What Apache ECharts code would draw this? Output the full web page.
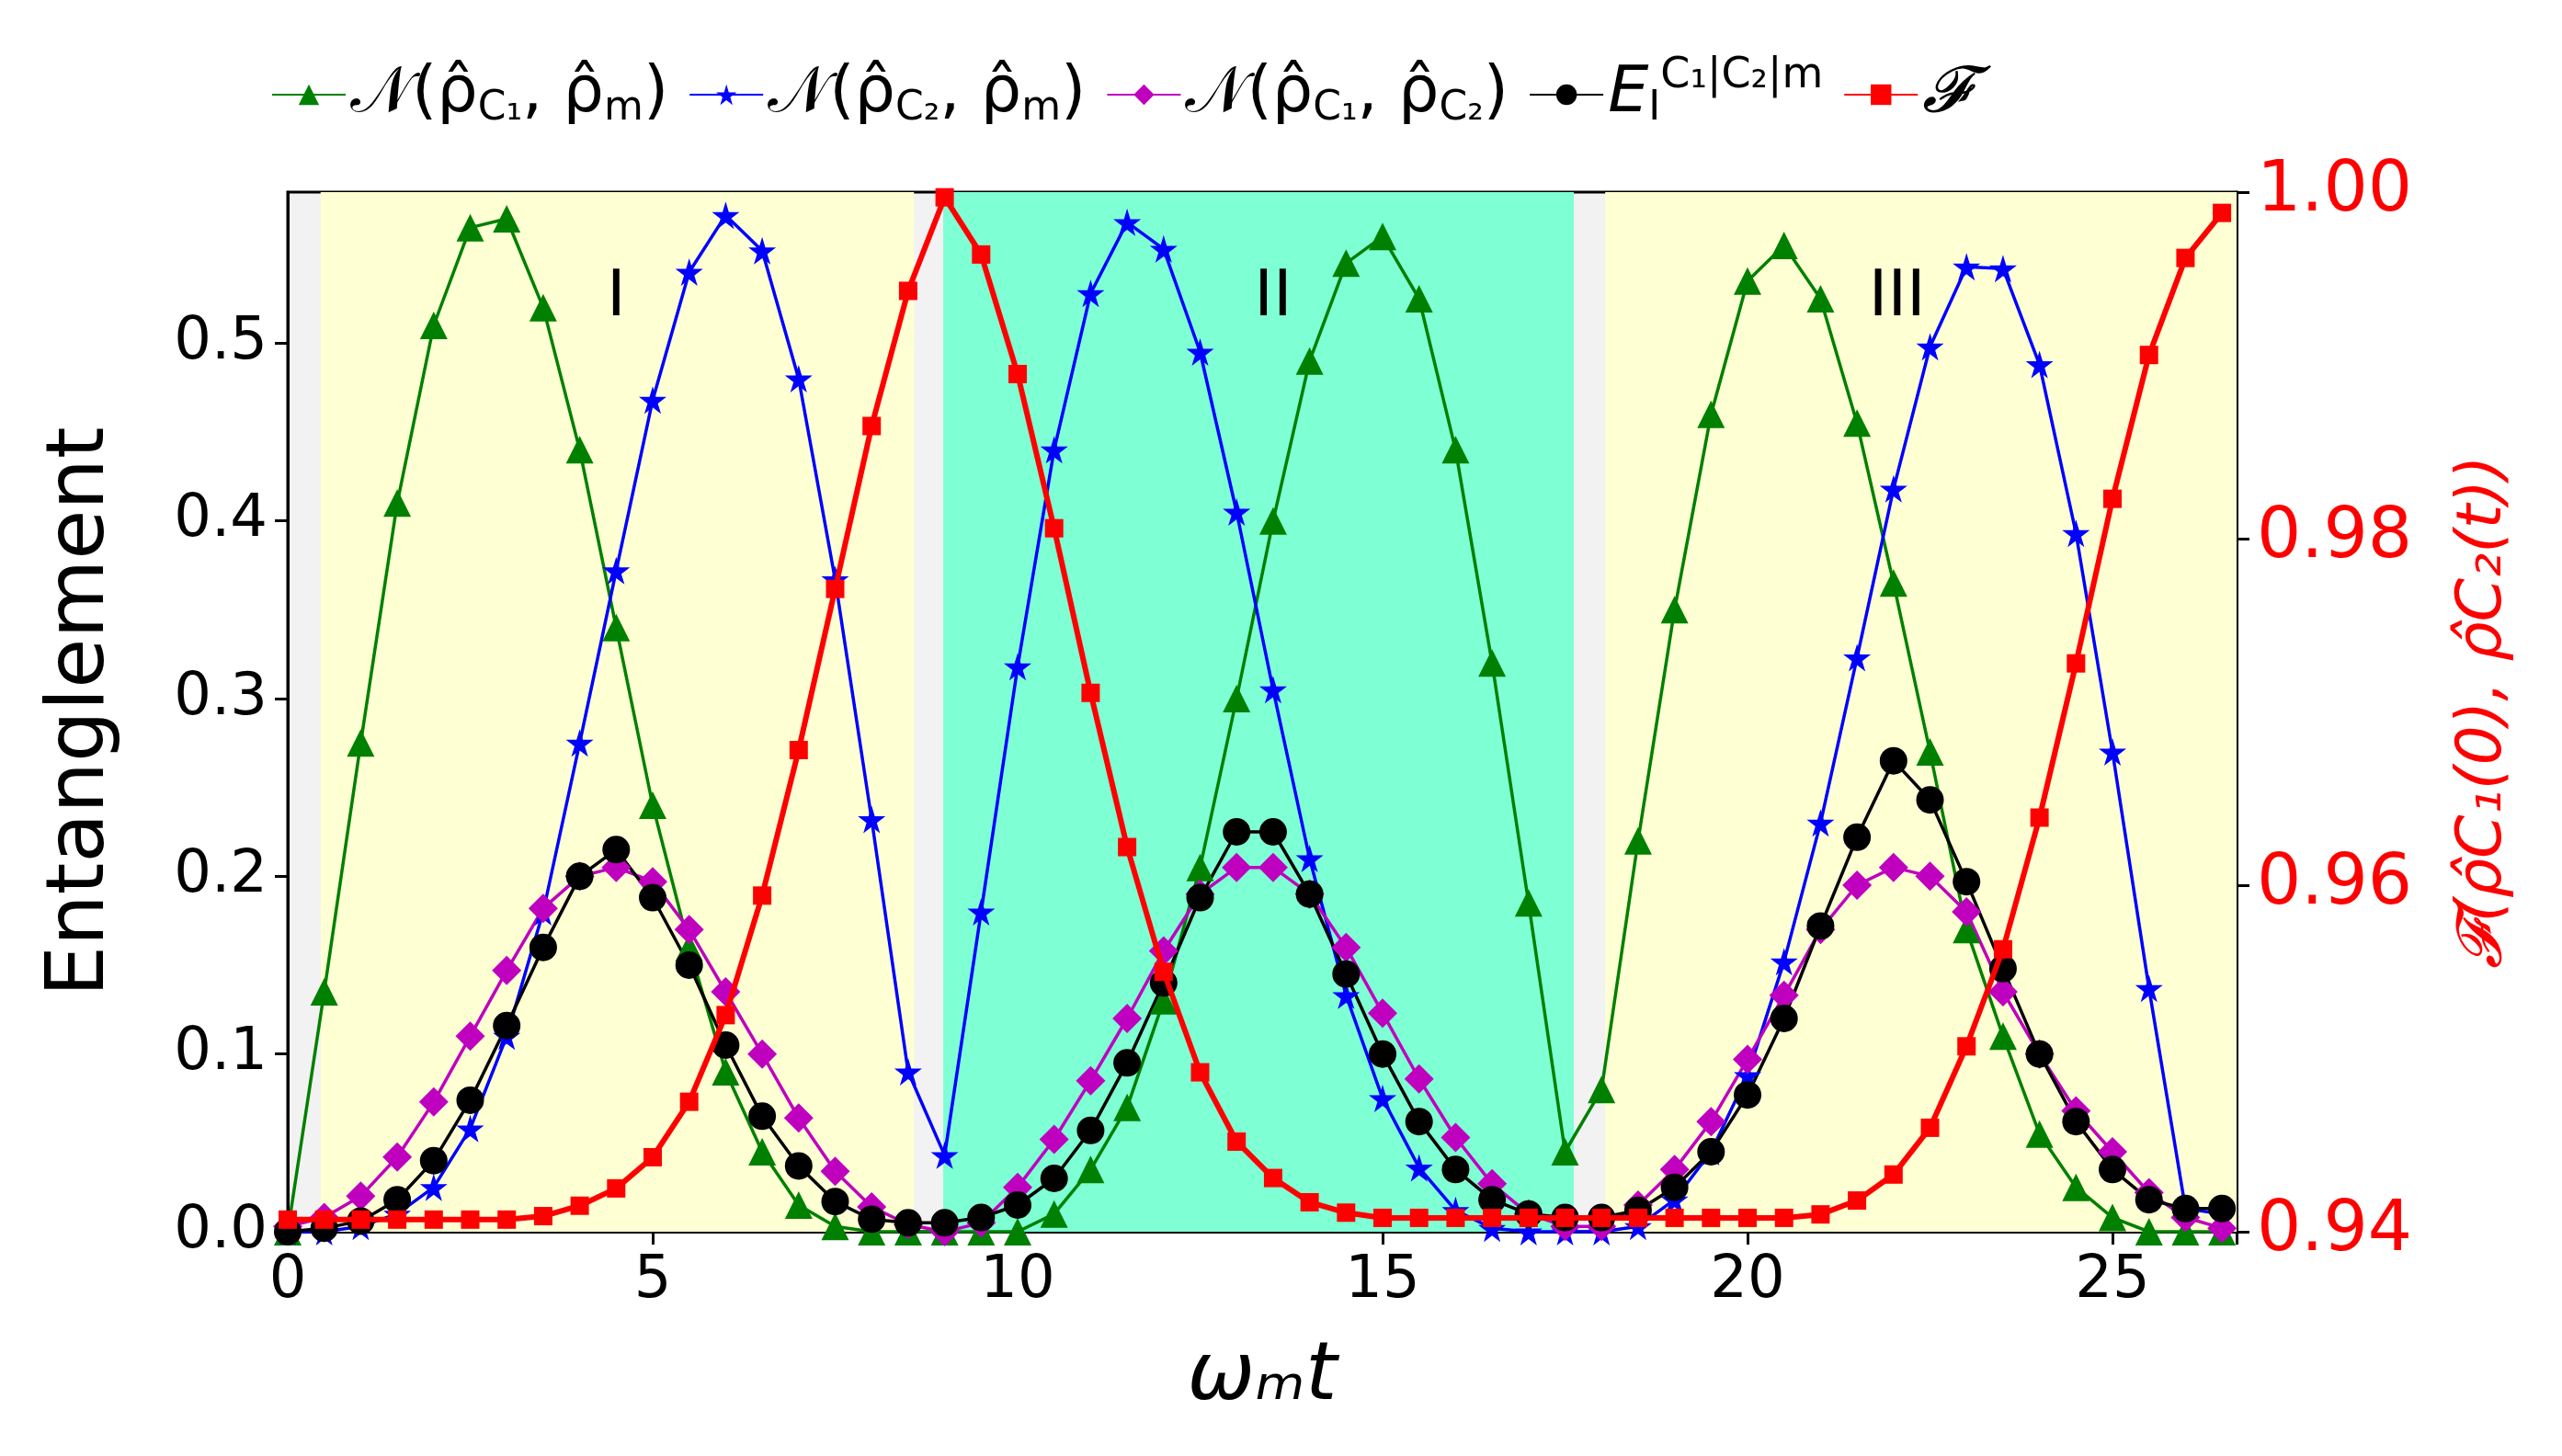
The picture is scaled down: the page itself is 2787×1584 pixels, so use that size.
<!DOCTYPE html>
<html><head><meta charset="utf-8">
<script src="https://cdn.jsdelivr.net/npm/echarts@6/dist/echarts.min.js"></script>
<style>html,body{margin:0;padding:0;background:#fff}#c{width:2787px;height:1584px}</style>
</head><body><div id="c"></div>
<script>
const dt = 0.5;
const nC1m = [0,0.135,0.275,0.41,0.51,0.565,0.57,0.52,0.44,0.34,0.24,0.16,0.09,0.045,0.015,0.003,0,0,0,0,0,0.01,0.035,0.07,0.13,0.205,0.30,0.40,0.49,0.545,0.56,0.525,0.44,0.32,0.185,0.045,0.08,0.22,0.35,0.46,0.535,0.555,0.525,0.455,0.365,0.27,0.17,0.11,0.055,0.025,0.008,0,0,0];
const nC2m = [0,0,0.003,0.01,0.025,0.058,0.11,0.18,0.275,0.372,0.468,0.54,0.572,0.552,0.48,0.367,0.232,0.09,0.043,0.18,0.318,0.44,0.528,0.568,0.553,0.495,0.405,0.305,0.21,0.133,0.075,0.036,0.012,0.002,0,0,0,0.003,0.018,0.045,0.088,0.152,0.23,0.323,0.418,0.498,0.543,0.542,0.488,0.393,0.27,0.137,0.013,0.01];
const nC1C2 = [0.003,0.008,0.02,0.042,0.073,0.11,0.147,0.182,0.2,0.205,0.197,0.17,0.135,0.1,0.064,0.034,0.014,0.004,0,0.005,0.025,0.052,0.085,0.12,0.158,0.19,0.205,0.205,0.19,0.16,0.123,0.086,0.053,0.027,0.01,0.003,0.003,0.015,0.035,0.062,0.097,0.133,0.17,0.195,0.205,0.2,0.18,0.135,0.1,0.068,0.045,0.022,0.008,0.002];
const EI = [0,0.002,0.006,0.018,0.04,0.074,0.116,0.16,0.2,0.215,0.188,0.15,0.105,0.065,0.037,0.017,0.007,0.005,0.005,0.008,0.015,0.03,0.057,0.095,0.14,0.188,0.225,0.225,0.19,0.145,0.1,0.062,0.035,0.018,0.01,0.008,0.008,0.012,0.025,0.045,0.077,0.12,0.172,0.222,0.265,0.243,0.197,0.148,0.1,0.062,0.035,0.018,0.013,0.013];
const fid = [0.9407,0.9407,0.9407,0.9407,0.9407,0.9407,0.9407,0.9409,0.9415,0.9425,0.9443,0.9475,0.9525,0.9594,0.9678,0.9771,0.9865,0.9943,0.9997,0.9964,0.9895,0.9806,0.9711,0.9622,0.955,0.9492,0.9452,0.9431,0.9417,0.9411,0.9408,0.9408,0.9408,0.9408,0.9408,0.9408,0.9408,0.9408,0.9408,0.9408,0.9408,0.9408,0.9410,0.9418,0.9433,0.946,0.9507,0.9563,0.9639,0.9728,0.9823,0.9906,0.9962,0.9988];
const bands = [[0.45,8.58,'#ffffd4'],[8.98,17.62,'#7fffd4'],[18.05,26.7,'#ffffd4']];
const regionLabels = [['I',4.5,0.525],['II',13.5,0.525],['III',22.05,0.525]];
const names = ['nC1m','nC2m','nC1C2','EI','F'];

const xs = nC1m.map((_,i)=>i*dt);
const pair = arr => arr.map((v,i)=>[xs[i],v]);
const star = 'path://M50,0 L61,35 L98,35 L68,57 L79,91 L50,70 L21,91 L32,57 L2,35 L39,35 Z';
const rich = {
  t:{fontSize:70,fontFamily:'DejaVu Sans',color:'#000'},
  s:{fontSize:44,fontFamily:'DejaVu Sans',padding:[32,0,0,0],color:'#000'},
  u:{fontSize:46,fontFamily:'DejaVu Sans',padding:[0,0,40,0],color:'#000'},
  i:{fontSize:70,fontFamily:'DejaVu Sans',fontStyle:'italic',color:'#000'}
};
const legendText = {
  nC1m:'{t|𝒩(ρ̂}{s|C₁}{t|, ρ̂}{s|m}{t|)}',
  nC2m:'{t|𝒩(ρ̂}{s|C₂}{t|, ρ̂}{s|m}{t|)}',
  nC1C2:'{t|𝒩(ρ̂}{s|C₁}{t|, ρ̂}{s|C₂}{t|)}',
  EI:'{i|E}{s|I}{u|C₁|C₂|m}',
  F:'{i|𝓕}'
};
const chart = echarts.init(document.getElementById('c'));
const mk = (name,data,color,symbol,size,width,yi)=>({
  name,type:'line',data:pair(data),yAxisIndex:yi||0,symbol,symbolSize:size,
  lineStyle:{color,width},itemStyle:{color},z:yi?5:3,animation:false
});
const s0 = mk('nC1m',nC1m,'#008000','triangle',30,3.5);
s0.markArea = {silent:true,itemStyle:{opacity:1},data:bands.map(b=>[{xAxis:b[0],yAxis:0,itemStyle:{color:b[2]}},{xAxis:b[1],yAxis:0.585}])};
s0.markPoint = {symbol:'circle',symbolSize:1,silent:true,itemStyle:{color:'rgba(0,0,0,0)'},
  label:{show:true,position:'inside',fontSize:70,fontFamily:'DejaVu Sans',color:'#000',formatter:p=>p.name},
  data:regionLabels.map(r=>({name:r[0],coord:[r[1],r[2]]}))};
chart.setOption({
  animation:false,
  backgroundColor:'#fff',
  legend:{top:55,left:290,itemGap:22,itemWidth:80,itemHeight:28,data:names,
    formatter:n=>legendText[n],textStyle:{rich}},
  grid:{left:313,right:354,top:209,bottom:244,show:true,backgroundColor:'#f2f2f2',borderColor:'#000',borderWidth:3,z:0},
  xAxis:{type:'value',min:0,max:26.7,interval:5,name:'ωₘt',nameLocation:'middle',nameGap:115,
    nameTextStyle:{fontSize:88,fontStyle:'italic',fontFamily:'DejaVu Sans',color:'#000'},
    axisLine:{lineStyle:{color:'#000',width:3}},axisTick:{length:14,lineStyle:{width:3,color:'#000'}},
    splitLine:{show:false},axisLabel:{fontSize:64,fontFamily:'DejaVu Sans',color:'#000',margin:22,
      formatter:v=>(v%5===0?v:'')}},
  yAxis:[
    {type:'value',min:0,max:0.585,interval:0.1,name:'Entanglement',nameLocation:'middle',nameGap:180,
     nameTextStyle:{fontSize:88,fontFamily:'DejaVu Sans',color:'#000'},
     axisLine:{show:true,lineStyle:{color:'#000',width:3}},axisTick:{show:true,length:14,lineStyle:{width:3}},
     splitLine:{show:false},axisLabel:{fontSize:64,fontFamily:'DejaVu Sans',color:'#000',margin:22,formatter:v=>v.toFixed(1),showMaxLabel:false}},
    {type:'value',min:0.94,max:1.0,interval:0.02,position:'right',name:'𝓕(ρ̂C₁(0), ρ̂C₂(t))',nameLocation:'middle',nameGap:235,nameRotate:90,
     nameTextStyle:{fontSize:68,fontFamily:'DejaVu Sans',color:'#ff0000',fontStyle:'italic'},
     axisLine:{show:true,lineStyle:{color:'#000',width:3}},axisTick:{show:true,length:14,lineStyle:{width:3}},
     splitLine:{show:false},axisLabel:{fontSize:76,fontFamily:'DejaVu Sans',color:'#ff0000',margin:22,formatter:v=>v.toFixed(2)}}
  ],
  series:[
    s0,
    mk('nC2m',nC2m,'#0000ff',star,30,3.5),
    mk('nC1C2',nC1C2,'#bf00bf','diamond',32,3.5),
    mk('EI',EI,'#000000','circle',30,3.5),
    mk('F',fid,'#ff0000','rect',20,6,1)
  ]
});
</script></body></html>
